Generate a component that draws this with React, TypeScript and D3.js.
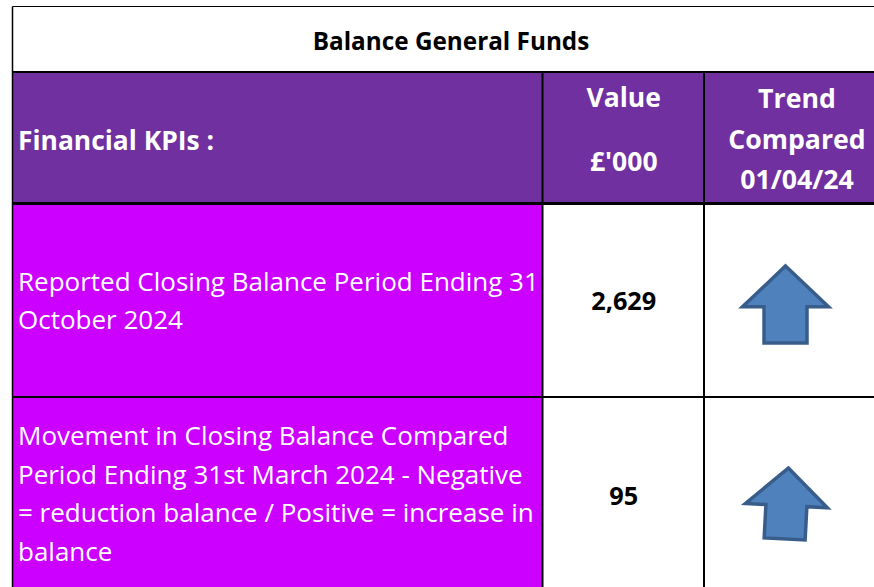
import React from "react";
import * as d3 from "d3";

const title = "Balance General Funds";
const headerKpi = "Financial KPIs :";
const headerValue = ["Value", "£'000"];
const headerTrend = ["Trend", "Compared", "01/04/24"];
const kpiLabels: string[][] = [
  ["Reported Closing Balance Period Ending 31", "October 2024"],
  [
    "Movement in Closing Balance Compared",
    "Period Ending 31st March 2024 - Negative",
    "= reduction balance / Positive = increase in",
    "balance",
  ],
];
const kpiValues = [2629, 95];
const kpiTrends = ["up", "up"];

const W = 874;
const H = 587;
const FONT = "'Open Sans', sans-serif";

const colX = d3.scaleOrdinal<string, number>().domain(["left", "value", "trend", "right"]).range([12.5, 542.5, 704, 890]);
const rowY = [6.5, 72, 203.5, 397, 640];

const PURPLE = "#7030A0";
const MAGENTA = "#CC00FF";

const arrowUnit: [number, number][] = [
  [0.5, 0],
  [1, 0.53],
  [0.75, 0.53],
  [0.75, 1],
  [0.25, 1],
  [0.25, 0.53],
  [0, 0.53],
];

function Arrow({ cx, top, w, h, rot }: { cx: number; top: number; w: number; h: number; rot: number }) {
  const sx = d3.scaleLinear().domain([0, 1]).range([cx - w / 2, cx + w / 2]);
  const sy = d3.scaleLinear().domain([0, 1]).range([top, top + h]);
  const line = d3.line<[number, number]>().x((d) => sx(d[0])).y((d) => sy(d[1])).curve(d3.curveLinearClosed);
  return (
    <path
      d={line(arrowUnit) || ""}
      fill="#4F81BD"
      stroke="#385D8A"
      strokeWidth={3.5}
      strokeLinejoin="miter"
      transform={`rotate(${rot} ${cx} ${top + h / 2})`}
    />
  );
}

export default function App() {
  const fmt = d3.format(",");
  const xL = colX("left");
  const xV = colX("value");
  const xT = colX("trend");
  const xR = colX("right");
  const vCenter = (xV + xT) / 2 + 0.5;
  const tCenter = (xT + xR) / 2;
  const labelBaselines = [
    [291, 329],
    [445, 484, 522, 561],
  ];
  const valueBaselines = [310, 505];
  const arrows = [
    { cx: 785.5, top: 266, w: 86, h: 77, rot: 0 },
    { cx: 786.5, top: 468, w: 82, h: 71, rot: 3 },
  ];
  return (
    <svg width={W} height={H} style={{ position: "absolute", left: 0, top: 0, background: "#fff" }} fontFamily={FONT}>
      <rect x={xL} y={rowY[1]} width={xR - xL} height={rowY[2] - rowY[1]} fill={PURPLE} />
      {kpiLabels.map((_, i) => (
        <rect key={i} x={xL} y={rowY[i + 2]} width={xV - xL} height={rowY[i + 3] - rowY[i + 2]} fill={MAGENTA} />
      ))}
      <line x1={xL} x2={W} y1={rowY[0]} y2={rowY[0]} stroke="#000" strokeWidth={1} />
      <line x1={xL} x2={xL} y1={rowY[0]} y2={H} stroke="#000" strokeWidth={1.5} />
      <line x1={xL} x2={W} y1={rowY[1]} y2={rowY[1]} stroke="#000" strokeWidth={2} />
      <line x1={xL} x2={W} y1={rowY[2]} y2={rowY[2]} stroke="#000" strokeWidth={3} />
      <line x1={xL} x2={W} y1={rowY[3]} y2={rowY[3]} stroke="#000" strokeWidth={2} />
      <line x1={xV} x2={xV} y1={rowY[1]} y2={H} stroke="#000" strokeWidth={2} />
      <line x1={xT} x2={xT} y1={rowY[1]} y2={H} stroke="#000" strokeWidth={2} />
      <text x={451} y={50} textAnchor="middle" fontWeight="bold" fontSize={24.3} fill="#000">
        {title}
      </text>
      <text x={18} y={150} fontWeight="bold" fontSize={26.4} fill="#fff">
        {headerKpi}
      </text>
      {headerValue.map((t, i) => (
        <text key={t} x={vCenter} y={[107, 171][i]} textAnchor="middle" fontWeight="bold" fontSize={26.5} fill="#fff">
          {t}
        </text>
      ))}
      {headerTrend.map((t, i) => (
        <text key={t} x={tCenter} y={[108, 149, 189][i]} textAnchor="middle" fontWeight="bold" fontSize={26.7} fill="#fff">
          {t}
        </text>
      ))}
      {kpiLabels.map((lines, i) =>
        lines.map((ln, j) => (
          <text key={`${i}-${j}`} x={18} y={labelBaselines[i][j]} fontSize={26} fill="#fff">
            {ln}
          </text>
        ))
      )}
      {kpiValues.map((v, i) => (
        <text key={i} x={vCenter} y={valueBaselines[i]} textAnchor="middle" fontWeight="bold" fontSize={25.3} fill="#000">
          {fmt(v)}
        </text>
      ))}
      {kpiTrends.map((t, i) => (t === "up" ? <Arrow key={i} {...arrows[i]} /> : null))}
    </svg>
  );
}
